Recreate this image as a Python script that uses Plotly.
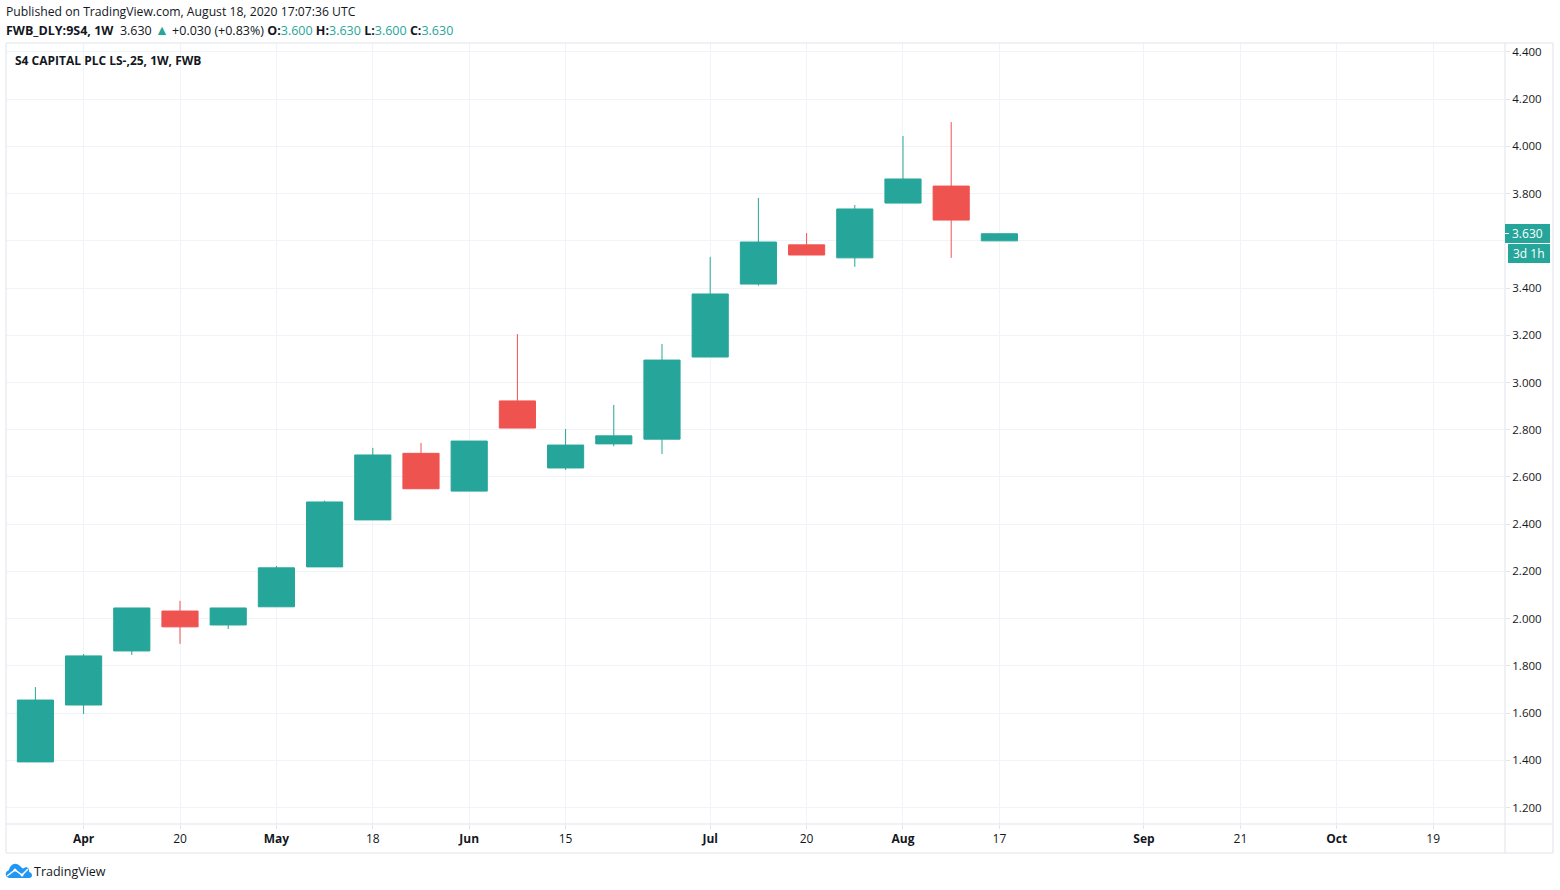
import plotly.graph_objects as go

# weekly candles, FWB_DLY:9S4
weeks = ["2020-03-30", "2020-04-06", "2020-04-13", "2020-04-20", "2020-04-27", "2020-05-04", "2020-05-11",
         "2020-05-18", "2020-05-25", "2020-06-01", "2020-06-08", "2020-06-15", "2020-06-22", "2020-06-29",
         "2020-07-06", "2020-07-13", "2020-07-20", "2020-07-27", "2020-08-03", "2020-08-10", "2020-08-17"]
opens = [1.393, 1.634, 1.863, 2.032, 1.973, 2.050, 2.219, 2.418, 2.700, 2.540, 2.922,
         2.638, 2.740, 2.760, 3.108, 3.417, 3.583, 3.528, 3.760, 3.832, 3.600]
highs = [1.710, 1.850, 2.045, 2.075, 2.045, 2.223, 2.500, 2.723, 2.744, 2.752, 3.205,
         2.803, 2.905, 3.163, 3.532, 3.782, 3.633, 3.752, 4.044, 4.103, 3.630]
lows = [1.393, 1.596, 1.846, 1.893, 1.956, 2.050, 2.219, 2.418, 2.550, 2.540, 2.807,
        2.630, 2.730, 2.697, 3.108, 3.410, 3.540, 3.490, 3.760, 3.528, 3.600]
closes = [1.655, 1.842, 2.045, 1.965, 2.045, 2.215, 2.494, 2.693, 2.550, 2.752, 2.807,
          2.735, 2.774, 3.095, 3.375, 3.595, 3.540, 3.735, 3.862, 3.688, 3.630]

future_weeks = ["2020-08-24", "2020-08-31", "2020-09-07", "2020-09-14", "2020-09-21", "2020-09-28",
                "2020-10-05", "2020-10-12", "2020-10-19", "2020-10-26"]

x_tick_vals = ["2020-04-06", "2020-04-20", "2020-05-04", "2020-05-18", "2020-06-01", "2020-06-15", "2020-07-06",
               "2020-07-20", "2020-08-03", "2020-08-17", "2020-09-07", "2020-09-21", "2020-10-05", "2020-10-19"]
x_tick_text = ["<b>Apr</b>", "20", "<b>May</b>", "18", "<b>Jun</b>", "15", "<b>Jul</b>",
               "20", "<b>Aug</b>", "17", "<b>Sep</b>", "21", "<b>Oct</b>", "19"]
y_tick_vals = [1.2, 1.4, 1.6, 1.8, 2.0, 2.2, 2.4, 2.6, 2.8, 3.0, 3.2, 3.4, 3.6, 3.8, 4.0, 4.2, 4.4]
# 3.600 sits behind the last price label in the original
y_tick_text = ["1.200", "1.400", "1.600", "1.800", "2.000", "2.200", "2.400", "2.600", "2.800",
               "3.000", "3.200", "3.400", "", "3.800", "4.000", "4.200", "4.400"]

UP = "#26A69A"
DOWN = "#EF5350"
GRID = "#F0F3FA"
BORDER = "#E0E3EB"
TEXT = "#131722"
LOGO = "#2196F3"
FONT = "Open Sans"

WIDTH, HEIGHT = 1560, 890
LEFT, RIGHT, TOP, BOTTOM = 6, 1505, 43, 824


def px(x):
    return (x - LEFT) / (RIGHT - LEFT)


def py(y):
    return (BOTTOM - y) / (BOTTOM - TOP)


def pt(x, y):
    return f"{px(x)},{py(y)}"


def label(x, y, text, size=12, color=TEXT, **kw):
    return dict(xref="paper", yref="paper", x=px(x), y=py(y), text=text, showarrow=False,
                xanchor=kw.pop("xanchor", "left"), yanchor="middle",
                font=dict(family=FONT, size=size, color=color), **kw)


def rect(x0, x1, y0, y1, **kw):
    return dict(type="rect", xref="paper", yref="paper", x0=px(x0), x1=px(x1), y0=py(y1), y1=py(y0), **kw)


def line(x0, x1, y0, y1, color=BORDER, width=1):
    return dict(type="line", xref="paper", yref="paper", x0=px(x0), x1=px(x1), y0=py(y0), y1=py(y1),
                line=dict(color=color, width=width))


def num(v):
    return f'<span style="color:{UP}">{v}</span>'


fig = go.Figure(go.Candlestick(
    x=weeks, open=opens, high=highs, low=lows, close=closes,
    whiskerwidth=0,
    increasing=dict(line=dict(color=UP, width=1), fillcolor=UP),
    decreasing=dict(line=dict(color=DOWN, width=1), fillcolor=DOWN),
    showlegend=False,
))

triangle = f'<span style="color:{UP};font-size:14px">▲</span>'
header = (f"<b>FWB_DLY:9S4, 1W</b>  3.630 {triangle} +0.030 (+0.83%) "
          f"<b>O:</b>{num('3.600')} <b>H:</b>{num('3.630')} <b>L:</b>{num('3.600')} <b>C:</b>{num('3.630')}")

annotations = [
    label(4, 12, "Published on TradingView.com, August 18, 2020 17:07:36 UTC", size=12.2),
    label(4, 29, header, size=12.5),
    label(13, 60.5, "<b>S4 CAPITAL PLC LS-,25, 1W, FWB</b>", size=12),
    label(32, 871.5, "TradingView", size=12.5),
    label(1528, 233.5, "3.630", size=12, color="#FFFFFF", xanchor="center"),
    label(1529, 253.5, "3d 1h", size=12, color="#FFFFFF", xanchor="center"),
]

shapes = [
    # outer frame and axis separators
    rect(6, 1553, 43, 853, line=dict(color=BORDER, width=1)),
    line(1505, 1505, 43, 853),
    line(6, 1553, 824, 824),
    # last price and countdown boxes
    rect(1505, 1550, 224, 243, fillcolor=UP, line=dict(width=0)),
    rect(1508, 1550, 244, 263, fillcolor=UP, line=dict(width=0)),
    line(1505, 1509, 233.5, 233.5, color="#FFFFFF"),
]

# TradingView logo
cloud = (f"M {pt(10, 878)} C {pt(5, 878)} {pt(4, 872)} {pt(9, 870)} C {pt(10, 865)} {pt(15, 861)} {pt(20, 866)} "
         f"C {pt(22, 868)} {pt(23, 869)} {pt(24, 868)} C {pt(27, 866)} {pt(30, 869)} {pt(29, 872)} "
         f"C {pt(33, 873)} {pt(33, 878)} {pt(29, 878)} Z")
shapes.append(dict(type="path", xref="paper", yref="paper", path=cloud,
                   fillcolor=LOGO, line=dict(width=0)))
shapes.append(dict(type="path", xref="paper", yref="paper",
                   path=f"M {pt(7, 876)} L {pt(15, 870)} L {pt(22, 875)} L {pt(28, 869)}",
                   line=dict(color="#FFFFFF", width=1.5)))
for cx, cy in [(15, 870), (22, 875)]:
    shapes.append(dict(type="circle", xref="paper", yref="paper",
                       x0=px(cx - 1.5), x1=px(cx + 1.5), y0=py(cy + 1.5), y1=py(cy - 1.5),
                       fillcolor="#FFFFFF", line=dict(width=0)))

fig.update_layout(
    width=WIDTH, height=HEIGHT,
    margin=dict(l=LEFT, r=WIDTH - RIGHT, t=TOP, b=HEIGHT - BOTTOM, autoexpand=False),
    paper_bgcolor="#FFFFFF", plot_bgcolor="#FFFFFF",
    font=dict(family=FONT, size=12, color=TEXT),
    annotations=annotations, shapes=shapes, boxgap=0.25, boxgroupgap=0,
    xaxis=dict(type="category", categoryorder="array", categoryarray=weeks + future_weeks,
               range=[-0.61, 30.49], rangeslider=dict(visible=False),
               tickmode="array", tickvals=x_tick_vals, ticktext=x_tick_text, tickangle=0,
               ticks="outside", ticklen=4, tickcolor=BORDER, showgrid=True, gridcolor=GRID,
               showline=False, zeroline=False),
    yaxis=dict(side="right", range=[1.130, 4.438], tickmode="array", tickvals=y_tick_vals,
               ticktext=y_tick_text, tickfont=dict(size=11.5), ticks="outside", ticklen=4, tickcolor=BORDER,
               showgrid=True, gridcolor=GRID, showline=False, zeroline=False),
)

fig.write_html("out.html", config=dict(displayModeBar=False), post_script="document.body.style.margin='0';")
